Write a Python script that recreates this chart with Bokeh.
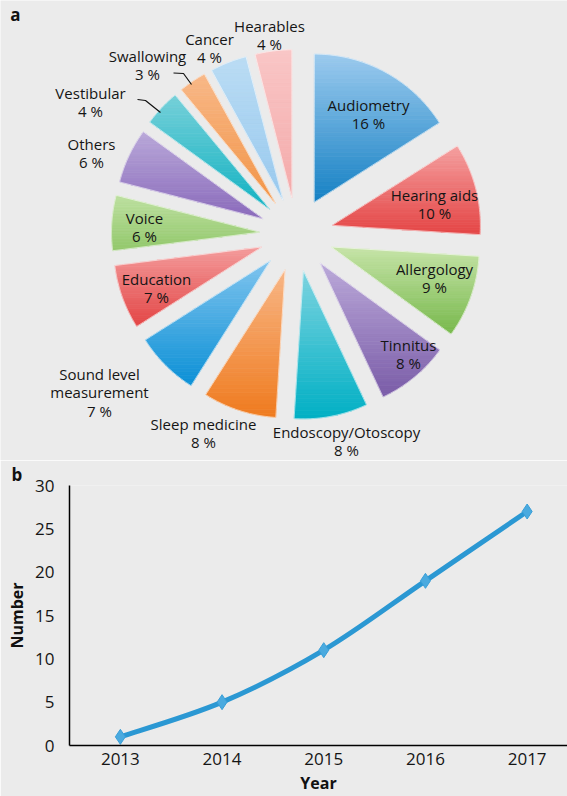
import numpy as np
from bokeh.plotting import figure
from bokeh.layouts import column
from bokeh.models import Range1d, FixedTicker
from bokeh.core.properties import value
from bokeh.embed import file_html
from bokeh.resources import INLINE

# ---------------- data ----------------
topics = ["Audiometry", "Hearing aids", "Allergology", "Tinnitus",
          "Endoscopy/Otoscopy", "Sleep medicine", "Sound level measurement",
          "Education", "Voice", "Others", "Vestibular", "Swallowing",
          "Cancer", "Hearables"]
shares = [16, 10, 9, 8, 8, 8, 7, 7, 6, 6, 4, 3, 4, 4]

years = [2013, 2014, 2015, 2016, 2017]
counts = [1, 5, 11, 19, 27]
y_ticks = [0, 5, 10, 15, 20, 25, 30]

# ---------------- styles / layout ----------------
BG = "#ebebeb"
FONT = "Open Sans"
TXT = "#151515"

top_colors = ["#9ccaee", "#f5a0a0", "#c6e4a8", "#bba9d9", "#7cd4e0", "#f8b686",
              "#80c4ee", "#f49c9c", "#bde0a0", "#b9a8d9", "#76d0d9", "#f8b888",
              "#badcf4", "#f9c6c6"]
bottom_colors = ["#1581c4", "#e44444", "#78b94c", "#7a5ca8", "#00afc4", "#ef7b1f",
                 "#0b90d6", "#e34545", "#93c86c", "#8a6abb", "#12b2c2", "#f29446",
                 "#98c9ee", "#f4aaaa"]

# label wrapping and anchor (centre of first line, page px)
label_names = {"Sound level measurement": ["Sound level", "measurement"]}
label_xy = [(368, 104), (434, 194), (434, 268), (408, 344), (346, 431),
            (203, 423), (99, 373), (156, 278), (144, 217), (91, 143),
            (90, 92), (147, 55), (209, 38), (269, 25)]
line_step = 18.7

center = (296.0, 234.0)
explode = 37.0
radius = 148.0
n_strips = 36

# leader lines (Vestibular, Swallowing)
leaders_x = [[137, 145, 160], [173, 183, 191]]
leaders_y = [[99, 100, 112], [72.5, 73, 84]]


def hex2rgb(h):
    h = h.lstrip("#")
    return np.array([int(h[i:i + 2], 16) for i in (0, 2, 4)], dtype=float)


def rgb2hex(c):
    c = np.clip(np.round(c), 0, 255).astype(int)
    return "#%02x%02x%02x" % tuple(c)


def clip_poly(pts, y0, y1):
    def clip(pts, inside, yc):
        out = []
        n = len(pts)
        for i in range(n):
            cur = pts[i]
            prev = pts[i - 1]
            if inside(cur):
                if not inside(prev):
                    t = (yc - prev[1]) / (cur[1] - prev[1])
                    out.append((prev[0] + t * (cur[0] - prev[0]), yc))
                out.append(cur)
            elif inside(prev):
                t = (yc - prev[1]) / (cur[1] - prev[1])
                out.append((prev[0] + t * (cur[0] - prev[0]), yc))
        return out
    pts = clip(pts, lambda p: p[1] >= y0, y0)
    if len(pts) < 3:
        return None
    pts = clip(pts, lambda p: p[1] <= y1, y1)
    if len(pts) < 3:
        return None
    return pts


def no_align(fig):
    try:
        fig.frame_align = False
    except Exception:
        pass


# ---------------- pie (panel a) ----------------
p1 = figure(width=567, height=460, x_range=Range1d(0, 567), y_range=Range1d(460, 0),
            output_backend="svg", toolbar_location=None, min_border=0)
no_align(p1)
p1.axis.visible = False
p1.grid.visible = False
p1.outline_line_color = None
p1.background_fill_color = BG
p1.border_fill_color = BG

total = float(sum(shares))
cum = np.concatenate([[0], np.cumsum(shares)]) / total * 2 * np.pi

strip_xs, strip_ys, strip_cols = [], [], []
out_xs, out_ys = [], []
for i, s in enumerate(shares):
    a0, a1 = cum[i], cum[i + 1]
    mid = (a0 + a1) / 2
    ax = center[0] + explode * np.sin(mid)
    ay = center[1] - explode * np.cos(mid)
    th = np.linspace(a0, a1, 60)
    px = np.concatenate([[ax], ax + radius * np.sin(th)])
    py = np.concatenate([[ay], ay - radius * np.cos(th)])
    out_xs.append(list(px))
    out_ys.append(list(py))
    pts = list(zip(px, py))
    ymin, ymax = py.min(), py.max()
    edges = np.linspace(ymin, ymax, n_strips + 1)
    ct, cb = hex2rgb(top_colors[i]), hex2rgb(bottom_colors[i])
    for k in range(n_strips):
        poly = clip_poly(pts, edges[k], edges[k + 1])
        if poly is None:
            continue
        f = (k + 0.5) / n_strips
        strip_xs.append([q[0] for q in poly])
        strip_ys.append([q[1] for q in poly])
        strip_cols.append(rgb2hex(ct + (cb - ct) * f))

p1.patches(strip_xs, strip_ys, fill_color=strip_cols, line_color=strip_cols, line_width=0.7)
p1.patches(out_xs, out_ys, fill_alpha=0, line_color="#ffffff", line_alpha=0.55, line_width=1)

tx, ty, tt = [], [], []
for i, name in enumerate(topics):
    lines = label_names.get(name, [name]) + ["%d %%" % shares[i]]
    x0, y0 = label_xy[i]
    for j, ln in enumerate(lines):
        tx.append(x0)
        ty.append(y0 + j * line_step)
        tt.append(ln)
p1.text(x=tx, y=ty, text=tt, text_align="center", text_baseline="middle",
        text_font=value(FONT), text_font_size="15px", text_color=TXT)

p1.multi_line(leaders_x, leaders_y, line_color="#111111", line_width=1.2)

p1.text(x=[15], y=[14], text=["a"], text_align="center", text_baseline="middle",
        text_font=value(FONT), text_font_size="17px", text_font_style="bold",
        text_color="#111111")

# ---------------- line chart (panel b) ----------------
px_per_year = 101.7
x0 = 2012.5
x1 = x0 + 498 / px_per_year
p2 = figure(width=567, height=336, x_range=Range1d(x0, x1), y_range=Range1d(0, 30),
            output_backend="svg", toolbar_location=None,
            min_border_left=69, min_border_right=0, min_border_top=22, min_border_bottom=49,
            title="b")
no_align(p2)
p2.background_fill_color = BG
p2.border_fill_color = BG
p2.outline_line_color = None
p2.grid.visible = False

p2.title.text_font = FONT
p2.title.text_font_size = "17px"
p2.title.text_font_style = "bold"
p2.title.text_color = "#111111"
p2.title.align = "left"
p2.title.offset = -58
p2.title.standoff = 0

for ax in (p2.xaxis[0], p2.yaxis[0]):
    ax.axis_line_color = "#000000"
    ax.axis_line_width = 1.5
    ax.major_tick_line_color = None
    ax.minor_tick_line_color = None
    ax.major_label_text_font = FONT
    ax.major_label_text_font_size = "17px"
    ax.major_label_text_color = TXT
    ax.axis_label_text_font = FONT
    ax.axis_label_text_font_style = "bold"
    ax.axis_label_text_color = "#111111"
p2.xaxis[0].ticker = FixedTicker(ticks=years)
p2.yaxis[0].ticker = FixedTicker(ticks=y_ticks)
p2.xaxis[0].major_label_standoff = 1
p2.yaxis[0].major_label_standoff = 9
p2.yaxis[0].axis_label = "Number"
p2.yaxis[0].axis_label_text_font_size = "16px"
p2.yaxis[0].axis_label_standoff = 4
p2.xaxis[0].axis_label = "Year"
p2.xaxis[0].axis_label_text_font_size = "16px"
p2.xaxis[0].axis_label_standoff = 4

# smooth curve through the data points (cubic Bezier segments)
X = np.array(years, dtype=float)
Y = np.array(counts, dtype=float)
Xp = np.concatenate([[X[0]], X, [X[-1]]])
Yp = np.concatenate([[Y[0]], Y, [Y[-1]]])
bx0, by0, bx1, by1, cx0, cy0, cx1, cy1 = [], [], [], [], [], [], [], []
for i in range(len(X) - 1):
    bx0.append(X[i]); by0.append(Y[i])
    bx1.append(X[i + 1]); by1.append(Y[i + 1])
    cx0.append(X[i] + (Xp[i + 2] - Xp[i]) / 6); cy0.append(Y[i] + (Yp[i + 2] - Yp[i]) / 6)
    cx1.append(X[i + 1] - (Xp[i + 3] - Xp[i + 1]) / 6); cy1.append(Y[i + 1] - (Yp[i + 3] - Yp[i + 1]) / 6)
p2.bezier(x0=bx0, y0=by0, x1=bx1, y1=by1, cx0=cx0, cy0=cy0, cx1=cx1, cy1=cy1,
          line_color="#2b98d3", line_width=5)
p2.scatter(years, counts, marker="diamond", size=15, fill_color="#4aaadf",
           line_color="#3a9fd8", line_width=1)

layout = column(p1, p2, spacing=0)
open("out.html", "w").write(file_html(layout, INLINE))
